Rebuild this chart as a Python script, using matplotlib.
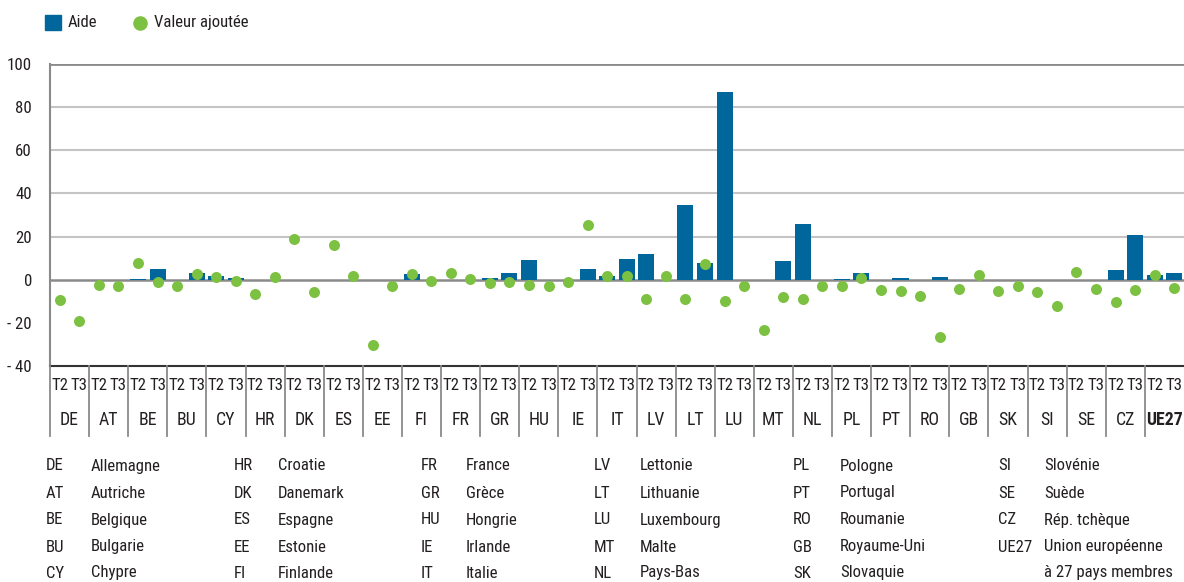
import os
import matplotlib
matplotlib.use("Agg")
import matplotlib.pyplot as plt
import matplotlib.transforms as mtransforms
from matplotlib import font_manager as fm
from matplotlib.textpath import TextPath
import numpy as np

countries = ["DE", "AT", "BE", "BU", "CY", "HR", "DK", "ES", "EE", "FI", "FR", "GR", "HU", "IE",
             "IT", "LV", "LT", "LU", "MT", "NL", "PL", "PT", "RO", "GB", "SK", "SI", "SE", "CZ", "UE27"]
quarters = ["T2", "T3"]

# Aide (bars) per country: [T2, T3]
aide_t2 = [0, 0, 0.3, 0, 1.9, 0, 0, 0, 0, 2.8, 0, 0.8, 9.3, 0,
           1.9, 12.0, 34.7, 87.0, 0, 25.9, 0.5, 0, 0, 0, 0, 0, 0, 4.6, 2.3]
aide_t3 = [0, 0, 5.1, 3.2, 0.8, 0, 0, 0, 0, 0, 0, 3.2, 0, 5.1,
           9.7, 0, 7.9, 0, 8.8, 0, 3.2, 0.9, 1.4, 0, 0, 0, 0, 20.8, 3.2]
# Valeur ajoutee (dots) per country: [T2, T3]
va_t2 = [-9.6, -2.5, 7.6, -3.1, 1.2, -6.5, 19.1, 15.9, -30.2, 2.8, 3.1, -1.5, -2.5, -1.2,
         1.9, -9.0, -9.0, -9.7, -23.3, -9.0, -3.1, -4.9, -7.4, -4.2, -5.2, -5.7, 3.5, -10.3, 2.2]
va_t3 = [-19.3, -2.8, -0.9, 2.8, -0.5, 1.2, -5.7, 1.5, -2.8, -0.5, 0.3, -1.2, -2.9, 25.5,
         1.5, 1.5, 7.3, -3.1, -7.9, -2.8, 0.6, -5.2, -26.5, 2.0, -2.8, -12.3, -4.2, -4.6, -3.9]

yticks = [-40, -20, 0, 20, 40, 60, 80, 100]
ytick_labels = ["- 40", "- 20", "0", "20", "40", "60", "80", "100"]

legend_codes = [["DE", "AT", "BE", "BU", "CY"], ["HR", "DK", "ES", "EE", "FI"],
                ["FR", "GR", "HU", "IE", "IT"], ["LV", "LT", "LU", "MT", "NL"],
                ["PL", "PT", "RO", "GB", "SK"], ["SI", "SE", "CZ", "UE27", ""]]
legend_names = [["Allemagne", "Autriche", "Belgique", "Bulgarie", "Chypre"],
                ["Croatie", "Danemark", "Espagne", "Estonie", "Finlande"],
                ["France", "Grèce", "Hongrie", "Irlande", "Italie"],
                ["Lettonie", "Lithuanie", "Luxembourg", "Malte", "Pays-Bas"],
                ["Pologne", "Portugal", "Roumanie", "Royaume-Uni", "Slovaquie"],
                ["Slovénie", "Suède", "Rép. tchèque", "Union européenne", "à 27 pays membres"]]

BLUE = "#00669c"
GREEN = "#7dc142"
TXT = "#231f20"

# ---- pick the narrowest installed sans font (reference uses a condensed face)
reg_prefs = ["notosans-extracondensed", "liberationsansnarrow-regular", "robotocondensed-regular",
             "notosans-condensed", "opensans_condensed-regular", "opensans-condensed",
             "dejavusanscondensed", "notosans-semicondensed"]
bold_prefs = ["notosans-extracondensedbold", "liberationsansnarrow-bold", "robotocondensed-bold",
              "notosans-condensedbold", "opensans_condensed-bold", "opensans-condensedbold",
              "dejavusanscondensed-bold", "notosans-semicondensedbold"]
files = {}
for e in fm.fontManager.ttflist:
    stem = os.path.splitext(os.path.basename(e.fname))[0].lower().replace(" ", "")
    files.setdefault(stem, e.fname)
fp_reg = None
fp_bold = None
for r, b in zip(reg_prefs, bold_prefs):
    if r in files:
        fp_reg = fm.FontProperties(fname=files[r])
        fp_bold = fm.FontProperties(fname=files[b]) if b in files else fm.FontProperties(fname=files[r], weight="bold")
        break
if fp_reg is None:
    fp_reg = fm.FontProperties(family="DejaVu Sans")
    fp_bold = fm.FontProperties(family="DejaVu Sans", weight="bold")

# size so that "Allemagne" is ~69 px wide (compromise with the taller reference face)
w10 = TextPath((0, 0), "Allemagne", size=10, prop=fp_reg).get_extents().width
FS = min(13.5, 69.0 / (w10 / 10 * 100 / 72))


def fprop(size, bold=False):
    p = (fp_bold if bold else fp_reg).copy()
    p.set_size(size)
    return p


W, H = 1184, 582
fig = plt.figure(figsize=(W / 100, H / 100), dpi=100)
ax_l, ax_r, ax_t, ax_b = 50, 1184, 64, 366
ax = fig.add_axes([ax_l / W, 1 - ax_b / H, (ax_r - ax_l) / W, (ax_b - ax_t) / H])

n = len(countries)
aide = []
va = []
for i in range(n):
    aide += [aide_t2[i], aide_t3[i]]
    va += [va_t2[i], va_t3[i]]
x = np.arange(2 * n)

ax.set_xlim(-0.5, 2 * n - 0.5)
ax.set_ylim(-40, 100)

for v in [20, 40, 60, 80]:
    ax.axhline(v, color="#c4c4c4", lw=1.5, zorder=1)
ax.axhline(100, color="#8a8a8a", lw=2, zorder=1)
ax.axhline(0, color="#8a8a8a", lw=1.8, zorder=2)

ax.bar(x, aide, width=0.82, color=BLUE, zorder=3)
ax.scatter(x, va, s=63, color=GREEN, zorder=4, linewidths=0)

for s in ["top", "right"]:
    ax.spines[s].set_visible(False)
ax.spines["left"].set_color("#8a8a8a")
ax.spines["left"].set_linewidth(1.5)
ax.spines["bottom"].set_color("#333333")
ax.spines["bottom"].set_linewidth(1.5)

ax.set_yticks(yticks)
ax.set_yticklabels(ytick_labels)
for lab in ax.get_yticklabels():
    lab.set_fontproperties(fprop(FS))
    lab.set_color(TXT)
ax.tick_params(axis="y", length=0, pad=13)
ax.set_xticks([])

trans = mtransforms.blended_transform_factory(ax.transData, ax.transAxes)
ax_h = ax_b - ax_t
for i in range(n):
    xd = 2 * i - 0.5
    ax.plot([xd, xd], [0, -(436 - ax_b) / ax_h], transform=trans, color="#8a8a8a",
            lw=1.3, clip_on=False, zorder=5)
    for j, q in enumerate(quarters):
        ax.text(2 * i + j, -(385.5 - ax_b) / ax_h, q, transform=trans, ha="center", va="center",
                fontproperties=fprop(FS), color=TXT)
    bold = countries[i] == "UE27"
    ax.text(2 * i + 0.5, -(420 - ax_b) / ax_h, countries[i], transform=trans, ha="center",
            va="center", fontproperties=fprop(FS * 1.06, bold), color=TXT)

# top legend
fig.patches.append(plt.Rectangle((45 / W, 1 - 30 / H), 16 / W, 15 / H, transform=fig.transFigure,
                                 color=BLUE, figure=fig))
fig.text(68 / W, 1 - 22.5 / H, "Aide", ha="left", va="center", fontproperties=fprop(FS), color=TXT)
fig.lines.append(plt.Line2D([140 / W], [1 - 23 / H], marker="o", markersize=10.5, color=GREEN,
                            markeredgewidth=0, transform=fig.transFigure, figure=fig))
fig.text(154 / W, 1 - 22.5 / H, "Valeur ajoutée", ha="left", va="center",
         fontproperties=fprop(FS), color=TXT)

# bottom country legend
code_x = [46, 234, 421, 594, 793, 998]
name_x = [91, 278, 466, 640, 840, 1044]
row_y = [466, 493, 520, 547, 573]
for c in range(6):
    for r in range(5):
        if legend_codes[c][r]:
            fig.text(code_x[c] / W, 1 - row_y[r] / H, legend_codes[c][r], ha="left", va="center",
                     fontproperties=fprop(FS), color=TXT)
        fig.text(name_x[c] / W, 1 - row_y[r] / H, legend_names[c][r], ha="left", va="center",
                 fontproperties=fprop(FS), color=TXT)

fig.savefig("out.png", dpi=100)
